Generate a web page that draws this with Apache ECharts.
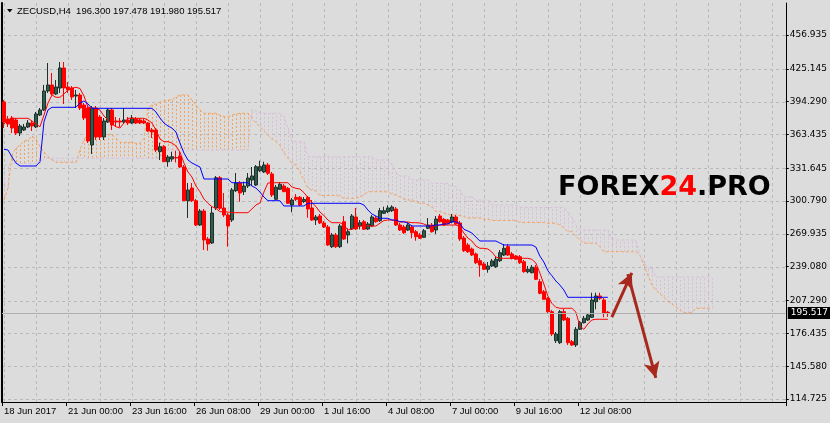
<!DOCTYPE html>
<html><head><meta charset="utf-8">
<script src="https://cdn.jsdelivr.net/npm/echarts@6/dist/echarts.min.js"></script>
<style>html,body{margin:0;padding:0;background:#dcdcdc;}#c{width:830px;height:423px;}</style>
</head><body><div id="c"></div>
<script>
// ---- data (ZECUSD, H4) ----
const symbolTitle = 'ZECUSD,H4  196.300 197.478 191.980 195.517';
const lastPrice = 195.517;
const yTickValues = [456.935, 425.145, 394.290, 363.435, 331.645, 300.790, 269.935, 239.080, 207.290, 176.435, 145.580, 114.725];
const yMin = 111.90, yMax = 487.02;
const xTickLabels = ['18 Jun 2017','21 Jun 00:00','23 Jun 16:00','26 Jun 08:00','29 Jun 00:00','1 Jul 16:00','4 Jul 08:00','7 Jul 00:00','9 Jul 16:00','12 Jul 08:00'];
const barsPerLabel = 16, barsPerGrid = 8, totalBars = 196;

const open = [393.95,377.96,378.90,377.02,364.80,367.62,370.44,374.20,370.44,381.72,
386.42,404.29,409.93,401.47,407.11,425.91,408.05,407.11,399.59,400.53,
391.13,388.30,353.52,388.30,379.84,361.04,375.14,386.42,376.08,376.08,
375.14,377.02,374.20,377.96,377.02,376.08,374.20,367.62,367.62,347.22,
351.92,337.82,340.36,341.77,343.18,332.84,301.15,313.09,301.15,278.31,
291.47,265.15,261.39,294.29,322.78,294.29,287.71,283.01,310.56,317.79,
309.61,314.97,320.61,315.91,329.36,328.14,334.72,326.26,302.47,311.88,
314.97,312.81,297.11,304.35,304.35,300.40,304.35,294.29,283.01,286.77,
280.19,276.43,257.91,268.91,257.91,281.41,268.91,274.55,285.83,277.37,
281.41,274.55,277.37,284.89,282.35,289.31,290.81,291.75,293.35,278.31,
276.43,273.61,276.43,272.01,268.91,266.74,275.21,278.31,273.61,286.77,
283.67,283.01,281.13,285.83,280.19,266.09,259.51,255.75,251.05,244.75,
241.65,236.66,239.76,239.10,244.75,250.10,257.91,251.05,249.16,248.50,
243.80,234.40,233.46,238.54,224.98,215.60,209.40,196.80,169.53,167.66,
196.80,190.59,168.60,165.50,180.26,186.46,189.00,191.53,206.16,211.56,
207.80,196.30];
const close = [375.14,373.26,369.50,364.80,371.38,370.44,374.20,371.38,382.66,386.42,
404.29,409.93,401.47,408.05,425.91,407.11,405.23,398.65,400.53,388.30,
378.90,357.28,388.30,361.04,361.04,376.08,386.42,372.32,375.14,375.14,
377.02,374.20,378.90,374.20,374.20,374.20,366.68,365.74,348.82,351.92,
337.82,342.24,342.52,341.30,332.84,301.15,311.21,301.15,278.31,291.47,
264.21,260.45,289.59,322.78,294.00,287.71,277.37,311.21,317.79,308.39,
314.97,322.49,324.38,333.12,333.12,334.72,326.92,306.51,313.75,316.57,
309.61,298.71,301.81,302.47,297.11,302.28,293.35,283.01,285.83,280.19,
276.43,259.51,268.91,257.91,277.37,265.15,272.01,286.77,274.55,280.47,
274.27,279.25,285.83,281.41,291.75,291.75,294.29,295.23,278.31,273.61,
271.07,278.31,271.07,267.31,265.80,272.95,278.31,272.01,283.95,281.41,
278.31,279.91,285.83,279.25,265.15,254.15,253.21,250.10,242.87,240.70,
236.66,239.76,244.46,246.06,252.27,256.40,250.10,247.00,246.06,242.87,
234.40,236.66,238.54,227.26,214.10,208.46,196.80,175.83,175.83,196.80,
189.00,167.66,165.50,180.26,186.46,190.59,193.70,207.80,211.56,209.40,
195.29,195.517];
const high = [395.83,380.78,380.78,378.90,373.26,373.26,377.02,376.08,384.54,388.30,
409.93,430.61,421.21,414.63,431.55,431.55,412.75,408.99,405.23,402.41,
393.01,390.19,390.19,390.19,381.72,378.90,388.30,388.30,379.84,378.90,
388.30,379.84,381.72,379.84,378.90,377.96,375.14,369.50,369.50,355.68,
353.52,344.12,347.22,348.16,347.22,334.72,317.79,317.79,302.75,293.35,
293.35,267.03,295.23,324.38,324.38,308.39,289.59,313.09,327.20,319.67,
319.01,327.20,332.84,334.72,338.76,337.82,336.60,328.14,315.91,318.73,
316.85,314.03,303.69,307.45,305.57,304.63,305.57,301.81,287.71,288.65,
282.07,278.31,270.79,270.79,279.25,286.77,275.21,288.65,294.29,283.01,
283.01,281.13,287.71,286.77,294.29,295.51,296.83,296.83,295.23,280.19,
278.31,280.19,278.31,273.61,270.79,274.55,284.89,280.19,286.77,288.65,
284.89,283.95,288.65,287.71,282.07,267.97,261.39,257.15,252.45,247.28,
243.53,243.53,246.34,248.22,254.81,260.44,260.44,252.93,250.10,250.10,
245.40,239.76,240.70,240.70,227.54,217.20,210.62,198.40,177.71,198.40,
199.33,191.81,170.19,182.42,188.06,192.76,195.58,214.66,214.66,214.66,
209.68,197.478];
const low = [369.50,370.44,364.80,362.92,361.98,366.68,369.50,366.68,369.50,380.78,
385.48,402.41,400.53,400.53,402.41,392.07,402.41,395.83,388.30,386.42,
377.02,355.40,345.06,358.22,358.22,358.22,374.20,367.62,370.44,370.44,
373.26,372.32,373.26,373.26,373.26,373.26,365.74,360.10,346.94,339.42,
337.54,333.12,337.82,337.16,331.90,300.87,284.89,299.93,277.37,277.37,
254.81,254.15,260.45,292.41,292.41,285.83,257.91,281.13,309.33,300.21,
306.51,313.09,314.97,314.97,328.14,327.20,325.32,304.63,301.81,311.21,
309.33,298.05,290.25,300.87,296.17,298.99,285.17,282.07,278.31,279.25,
275.49,258.57,256.69,256.69,256.69,264.21,261.11,273.61,273.61,274.27,
273.61,273.61,276.43,280.47,281.13,288.65,289.59,290.53,277.37,272.67,
269.85,272.67,265.80,263.55,265.15,266.09,274.55,271.07,269.85,280.47,
277.37,278.97,279.91,278.31,263.27,252.93,251.99,249.16,241.65,229.70,
236.01,233.46,238.82,237.88,243.53,249.16,249.16,245.87,245.40,241.65,
233.46,232.90,232.90,226.60,213.16,207.80,195.58,173.96,167.38,166.43,
188.06,165.50,164.55,163.61,179.60,185.71,188.06,190.87,199.05,207.80,
191.53,191.98];

// Ichimoku lines
const tenkan = [373.26,377.02,378.62,378.62,378.62,378.62,378.62,376.08,373.26,370.72,
381.72,393.01,400.53,398.37,398.37,401.47,405.23,406.83,407.77,406.64,
399.59,389.24,388.02,388.02,386.42,380.78,377.02,373.26,370.72,369.50,
374.20,378.62,378.62,378.62,378.62,378.62,377.02,374.20,367.62,359.16,
356.62,356.62,355.40,352.58,346.94,336.60,328.14,323.44,314.97,309.61,
302.75,298.71,295.51,294.00,290.81,290.81,290.53,289.87,289.87,289.87,
289.87,289.87,293.35,297.11,298.99,309.33,317.79,318.06,318.06,318.06,
318.06,318.06,314.03,312.81,312.15,308.86,304.16,299.46,295.70,290.53,
287.24,283.01,280.47,280.47,280.47,278.31,273.61,274.55,276.15,277.37,
277.37,277.37,277.37,277.37,279.91,282.54,283.01,283.01,282.07,281.13,
281.13,281.13,280.47,280.47,280.19,279.25,277.37,277.37,277.37,278.31,
278.31,278.31,278.31,278.31,276.72,270.79,266.09,263.27,258.57,256.40,
256.40,255.75,252.93,248.22,247.00,247.00,247.00,247.00,247.00,247.00,
247.00,247.00,246.06,242.58,233.18,222.84,211.56,204.70,200.94,200.00,
200.00,200.00,200.00,196.52,183.36,180.26,185.24,189.00,189.66,189.66,
189.66,189.66];
const kijun = [349.48,348.82,342.24,336.60,333.78,333.78,333.78,333.78,333.78,337.82,
375.38,386.42,388.96,388.96,388.96,388.96,388.96,388.96,388.96,393.01,
394.89,392.07,388.02,388.02,388.02,388.02,388.02,388.02,388.02,388.02,
388.02,388.02,388.02,388.02,388.02,388.02,388.02,388.02,384.54,378.90,
374.20,371.38,369.50,365.74,355.40,346.00,339.42,336.60,334.72,332.84,
321.55,321.55,321.55,321.55,321.55,321.55,321.55,318.06,318.06,318.06,
318.06,318.06,314.97,313.09,309.33,304.63,301.15,301.15,301.15,301.15,
296.17,296.17,296.17,296.17,296.17,296.17,298.71,298.71,298.71,298.71,
298.71,298.71,298.71,298.71,298.71,298.71,298.71,298.71,298.71,298.71,
297.11,292.41,288.65,286.77,284.60,284.60,284.60,283.01,283.01,281.41,
281.41,280.19,277.37,277.37,277.37,277.37,277.37,277.37,278.31,278.31,
279.25,279.25,281.41,281.41,279.72,274.27,272.67,270.79,267.03,263.27,
263.27,263.27,263.27,263.27,261.39,259.51,259.51,259.51,259.51,259.51,
259.51,259.51,259.51,257.63,249.16,243.53,235.35,230.65,225.66,221.90,
217.20,210.33,210.33,210.33,210.33,210.33,210.33,210.33,210.33,210.33,
210.33,210.33];
const spanA = [301.81,313.09,344.12,350.70,353.52,357.28,358.22,361.98,359.16,351.92,
346.94,342.52,339.42,337.26,337.26,337.26,337.26,337.26,337.26,348.82,
359.16,362.26,362.26,362.26,362.26,362.92,363.58,363.58,359.82,356.06,
356.06,356.06,356.06,355.12,355.12,359.82,388.30,391.13,392.07,393.95,
394.89,395.83,395.83,398.65,400.53,400.53,400.53,395.83,391.13,386.42,
383.32,383.32,383.32,383.32,381.72,380.12,380.12,381.72,382.66,383.32,
383.32,383.32,378.90,374.20,370.72,366.68,362.92,359.16,356.62,353.52,
346.00,341.30,336.32,334.72,328.14,320.61,312.81,311.21,310.28,306.04,
306.04,306.04,306.04,306.04,305.57,303.41,303.41,303.41,303.41,304.63,
306.51,309.61,309.61,309.61,309.61,309.61,309.33,307.45,306.51,304.63,
302.75,301.81,301.81,299.93,298.71,298.71,297.11,295.23,290.81,290.81,
289.31,288.18,287.71,287.71,287.24,286.30,284.89,284.89,284.89,284.89,
283.67,283.67,282.54,282.54,282.54,282.54,282.54,282.54,282.54,280.66,
280.66,280.66,280.66,280.66,280.66,280.66,279.91,279.91,279.91,278.31,
275.49,272.01,272.01,267.97,264.21,261.11,261.11,261.11,261.11,257.91,
253.21,253.21,253.21,253.21,253.21,253.21,253.21,253.21,253.21,250.10,
240.70,231.30,221.90,217.20,213.44,210.62,206.20,204.04,201.22,198.40,
195.86,195.86,195.86,199.99,199.99,199.99,199.99,199.99];
const spanB = [334.72,334.72,336.32,336.32,336.32,336.32,336.32,336.32,336.32,336.32,
341.02,341.02,341.02,341.02,341.02,341.02,341.02,341.02,341.02,341.02,
341.02,341.02,341.02,341.02,341.02,341.02,341.02,341.02,341.02,341.02,
341.02,341.02,341.02,341.02,341.02,341.02,341.02,341.02,341.02,341.02,
348.82,348.82,348.82,348.82,348.82,348.82,348.82,348.82,348.82,348.82,
348.82,348.82,348.82,348.82,348.82,348.82,348.82,348.82,348.82,348.82,
348.82,348.82,386.90,385.48,383.32,383.32,383.32,383.32,383.32,383.32,
380.12,369.50,356.62,356.62,356.62,356.62,342.52,342.52,342.52,342.52,
342.52,342.52,342.52,342.52,342.52,342.52,342.52,342.52,342.52,342.52,
342.52,342.52,342.52,339.42,339.42,339.42,339.42,334.72,328.14,324.38,
324.38,324.38,320.61,320.61,320.61,320.61,320.61,317.51,317.51,317.51,
317.51,317.51,314.31,314.31,311.21,304.63,304.63,304.63,301.81,301.81,
301.81,301.81,297.11,297.11,297.11,297.11,297.11,297.11,297.11,294.76,
294.76,294.76,294.76,294.76,294.76,294.76,294.76,294.76,294.76,294.76,
294.76,290.53,285.83,278.31,273.61,273.61,273.61,273.61,273.61,273.61,
273.61,273.61,264.21,264.21,264.21,264.21,264.21,264.21,264.21,250.10,
243.53,237.88,237.88,229.42,229.42,229.42,229.42,229.42,229.42,229.42,
229.42,229.42,229.42,229.42,229.42,229.42,229.42,229.42];

// hand-drawn forecast arrows, in (bar index, price)
const arrowUp = [[152, 191.8], [157, 233.2]];
const arrowDown = [[156, 232.2], [163, 134.5]];

// ---- build ----
const categories = Array.from({length: totalBars}, (_, i) => String(i));
const candleData = open.map((o, i) => [o, close[i], low[i], high[i]]);
const cloudData = spanA.map((a, i) => [i, a, spanB[i]]);
const hGridData = yTickValues.map(v => [0, v]);
const vGridData = [];
for (let i = 0; i < totalBars; i += barsPerGrid) vGridData.push([i, yMin]);
const showTick = (idx) => idx % barsPerLabel === 0 && (idx / barsPerLabel) < xTickLabels.length;
const crisp = v => Math.round(v) + 0.5;
const gridColor = '#bababa';
const arrowColor = '#a8281e';

const chart = echarts.init(document.getElementById('c'), null, {renderer: 'canvas'});
chart.setOption({
  animation: false,
  backgroundColor: '#dcdcdc',
  grid: {left: 2, right: 43, top: 3, bottom: 21},
  xAxis: {
    type: 'category', data: categories, boundaryGap: true,
    axisLine: {onZero: false, lineStyle: {color: '#000', width: 1}},
    axisTick: {show: true, interval: showTick, length: 4, lineStyle: {color: '#000'}},
    axisLabel: {interval: showTick, align: 'left', margin: 4, color: '#000',
      fontFamily: 'Liberation Sans', fontSize: 9.5,
      formatter: (v, idx) => xTickLabels[Math.round(idx / barsPerLabel)] || ''},
    splitLine: {show: false}
  },
  yAxis: [{
    type: 'value', position: 'right', min: yMin, max: yMax, scale: true,
    axisLine: {show: true, lineStyle: {color: '#000', width: 1}},
    axisTick: {show: true, length: 3, customValues: yTickValues, lineStyle: {color: '#000'}},
    axisLabel: {customValues: yTickValues, margin: 4, color: '#000',
      fontFamily: 'DejaVu Sans', fontSize: 9, formatter: v => v.toFixed(3)},
    splitLine: {show: false}
  }, {
    type: 'value', position: 'left', min: yMin, max: yMax,
    axisLine: {show: true, lineStyle: {color: '#000', width: 2}},
    axisTick: {show: false}, axisLabel: {show: false}, splitLine: {show: false}
  }],
  graphic: [
    {type: 'polygon', shape: {points: [[7, 9], [12.5, 9], [9.75, 12.5]]}, style: {fill: '#000'}, z: 100},
    {type: 'text', x: 17, y: 11, z: 100, style: {text: symbolTitle, fill: '#000',
      font: '9.5px "Liberation Sans"', verticalAlign: 'middle'}},
    {type: 'text', x: 558, y: 188, z: 100, style: {
      text: '{a|FOREX}{b|24}{a|.PRO}', verticalAlign: 'middle',
      rich: {a: {fill: '#000', font: 'bold 27px "DejaVu Sans"'}, b: {fill: '#ff0000', font: 'bold 27px "DejaVu Sans"'}}}}
  ],
  series: [
    {type: 'custom', name: 'hgrid', silent: true, z: 0, data: hGridData,
      renderItem: (params, api) => {
        const cs = params.coordSys; const y = crisp(api.coord([0, api.value(1)])[1]);
        return {type: 'line', shape: {x1: cs.x, y1: y, x2: cs.x + cs.width, y2: y},
          style: {stroke: gridColor, lineWidth: 1, lineDash: [3, 3]}};
      }},
    {type: 'custom', name: 'vgrid', silent: true, z: 0, data: vGridData,
      renderItem: (params, api) => {
        const cs = params.coordSys; const x = crisp(api.coord([api.value(0), api.value(1)])[0]);
        return {type: 'line', shape: {x1: x, y1: cs.y, x2: x, y2: cs.y + cs.height},
          style: {stroke: gridColor, lineWidth: 1, lineDash: [3, 3]}};
      }},
    {type: 'custom', name: 'cloud', silent: true, z: 1, data: cloudData, encode: {x: 0, y: [1, 2]},
      renderItem: (params, api) => {
        const i = api.value(0), a = api.value(1), b = api.value(2);
        const pa = api.coord([i, a]), pb = api.coord([i, b]);
        const x = crisp(pa[0]);
        return {type: 'line', shape: {x1: x, y1: pa[1], x2: x, y2: pb[1]},
          style: {stroke: a >= b ? '#f4a460' : '#d8bfd8', lineWidth: 1, lineDash: [2, 2]}};
      }},
    {type: 'line', name: 'Senkou A', data: spanA, showSymbol: false, z: 2, silent: true,
      lineStyle: {color: '#f4a460', width: 1, type: [3, 2]}},
    {type: 'line', name: 'Senkou B', data: spanB, showSymbol: false, z: 2, silent: true,
      lineStyle: {color: '#d8bfd8', width: 1, type: [3, 2]}},
    {type: 'candlestick', name: 'ZECUSD', data: candleData, z: 3, barWidth: 3,
      itemStyle: {color: '#2f5e4e', color0: '#ff0000', borderColor: '#1d302a', borderColor0: '#ff0000', borderWidth: 1},
      markLine: {
        silent: true, animation: false, symbol: ['none', 'none'], z: 6,
        data: [
          {yAxis: lastPrice, lineStyle: {color: '#b0b0b0', type: 'solid', width: 1},
            label: {show: true, position: 'end', distance: 2, formatter: lastPrice.toFixed(3),
              backgroundColor: '#000', color: '#fff', padding: [2, 3, 1, 3], fontSize: 9, fontFamily: 'DejaVu Sans'}},
          [{coord: arrowUp[0], symbol: 'none', lineStyle: {color: arrowColor, width: 3, type: 'solid'}, label: {show: false}},
           {coord: arrowUp[1], symbol: 'arrow', symbolSize: [12, 16], lineStyle: {color: arrowColor, width: 3, type: 'solid'}, label: {show: false}}],
          [{coord: arrowDown[0], symbol: 'none', lineStyle: {color: arrowColor, width: 3, type: 'solid'}, label: {show: false}},
           {coord: arrowDown[1], symbol: 'arrow', symbolSize: [12, 16], lineStyle: {color: arrowColor, width: 3, type: 'solid'}, label: {show: false}}]
        ]
      }},
    {type: 'line', name: 'Tenkan', data: tenkan, showSymbol: false, z: 4, silent: true,
      lineStyle: {color: '#ff0000', width: 1}},
    {type: 'line', name: 'Kijun', data: kijun, showSymbol: false, z: 4, silent: true,
      lineStyle: {color: '#0000ff', width: 1}}
  ]
});
</script></body></html>
